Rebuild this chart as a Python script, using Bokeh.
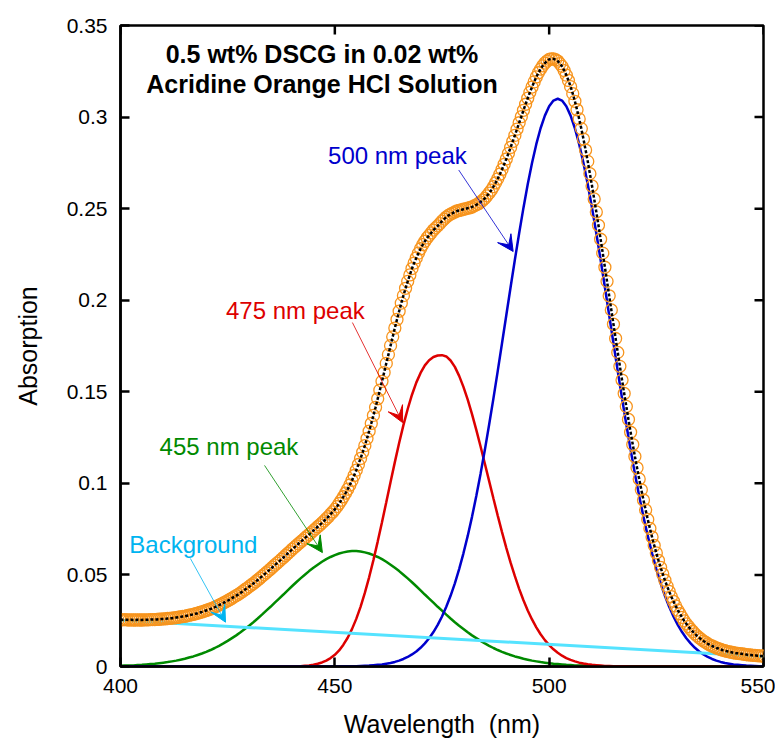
from bokeh.plotting import figure
from bokeh.models import Range1d, FixedTicker, Arrow, VeeHead, Label
from bokeh.embed import file_html
from bokeh.resources import INLINE

# ---------------- data ----------------
# component curves, sampled every 1 nm (400 ... 550)
wavelength = list(range(400, 551))
# measured spectrum, sampled every 0.5 nm (400 ... 550)
wavelength_meas = [400 + 0.5 * i for i in range(301)]

measured = [
    0.0256, 0.0255, 0.0256, 0.0255, 0.0254, 0.0255, 0.0254, 0.0254, 0.0255, 0.0254,
    0.0254, 0.0255, 0.0255, 0.0255, 0.0256, 0.0256, 0.0256, 0.0257, 0.0258, 0.0259,
    0.0260, 0.0260, 0.0262, 0.0263, 0.0264, 0.0265, 0.0267, 0.0269, 0.0271, 0.0273,
    0.0274, 0.0277, 0.0280, 0.0282, 0.0285, 0.0288, 0.0291, 0.0295, 0.0298, 0.0302,
    0.0306, 0.0310, 0.0314, 0.0319, 0.0324, 0.0330, 0.0335, 0.0341, 0.0347, 0.0353,
    0.0359, 0.0366, 0.0373, 0.0380, 0.0387, 0.0394, 0.0402, 0.0410, 0.0419, 0.0427,
    0.0436, 0.0445, 0.0453, 0.0463, 0.0472, 0.0482, 0.0492, 0.0502, 0.0512, 0.0522,
    0.0532, 0.0543, 0.0554, 0.0564, 0.0574, 0.0585, 0.0595, 0.0606, 0.0617, 0.0627,
    0.0639, 0.0649, 0.0659, 0.0670, 0.0680, 0.0690, 0.0701, 0.0711, 0.0721, 0.0731,
    0.0742, 0.0752, 0.0763, 0.0773, 0.0784, 0.0795, 0.0807, 0.0818, 0.0832, 0.0844,
    0.0858, 0.0873, 0.0890, 0.0908, 0.0927, 0.0947, 0.0968, 0.0991, 0.1016, 0.1043,
    0.1072, 0.1103, 0.1136, 0.1170, 0.1206, 0.1245, 0.1285, 0.1327, 0.1371, 0.1415,
    0.1462, 0.1509, 0.1557, 0.1605, 0.1655, 0.1703, 0.1752, 0.1800, 0.1848, 0.1895,
    0.1940, 0.1984, 0.2025, 0.2065, 0.2103, 0.2138, 0.2173, 0.2203, 0.2231, 0.2257,
    0.2281, 0.2303, 0.2322, 0.2340, 0.2354, 0.2368, 0.2383, 0.2395, 0.2406, 0.2418,
    0.2432, 0.2443, 0.2454, 0.2463, 0.2470, 0.2476, 0.2482, 0.2487, 0.2490, 0.2493,
    0.2497, 0.2499, 0.2503, 0.2505, 0.2509, 0.2515, 0.2521, 0.2527, 0.2536, 0.2546,
    0.2556, 0.2570, 0.2585, 0.2601, 0.2620, 0.2641, 0.2663, 0.2688, 0.2714, 0.2742,
    0.2771, 0.2802, 0.2834, 0.2867, 0.2900, 0.2934, 0.2969, 0.3002, 0.3037, 0.3070,
    0.3103, 0.3135, 0.3164, 0.3192, 0.3219, 0.3242, 0.3262, 0.3280, 0.3295, 0.3306,
    0.3315, 0.3318, 0.3318, 0.3313, 0.3306, 0.3292, 0.3277, 0.3254, 0.3229, 0.3200,
    0.3166, 0.3128, 0.3086, 0.3040, 0.2990, 0.2937, 0.2880, 0.2820, 0.2758, 0.2691,
    0.2624, 0.2553, 0.2482, 0.2409, 0.2333, 0.2257, 0.2180, 0.2103, 0.2024, 0.1947,
    0.1869, 0.1791, 0.1715, 0.1639, 0.1564, 0.1491, 0.1420, 0.1349, 0.1279, 0.1212,
    0.1147, 0.1085, 0.1024, 0.0965, 0.0909, 0.0855, 0.0803, 0.0754, 0.0707, 0.0661,
    0.0620, 0.0579, 0.0541, 0.0505, 0.0471, 0.0439, 0.0410, 0.0381, 0.0356, 0.0331,
    0.0308, 0.0288, 0.0268, 0.0249, 0.0233, 0.0218, 0.0203, 0.0191, 0.0178, 0.0167,
    0.0157, 0.0148, 0.0139, 0.0132, 0.0124, 0.0117, 0.0112, 0.0107, 0.0101, 0.0098,
    0.0093, 0.0089, 0.0086, 0.0083, 0.0080, 0.0078, 0.0075, 0.0073, 0.0072, 0.0070,
    0.0069, 0.0067, 0.0065, 0.0063, 0.0063, 0.0061, 0.0061, 0.0059, 0.0058, 0.0058,
    0.0056,
]

peak_455 = [
    0.0004, 0.0005, 0.0005, 0.0006, 0.0008, 0.0009, 0.0011, 0.0013, 0.0015, 0.0018,
    0.0021, 0.0024, 0.0028, 0.0032, 0.0037, 0.0042, 0.0049, 0.0055, 0.0063, 0.0071,
    0.0080, 0.0090, 0.0101, 0.0113, 0.0126, 0.0140, 0.0155, 0.0170, 0.0187, 0.0205,
    0.0223, 0.0242, 0.0262, 0.0283, 0.0305, 0.0326, 0.0349, 0.0371, 0.0393, 0.0416,
    0.0438, 0.0460, 0.0481, 0.0501, 0.0521, 0.0539, 0.0556, 0.0572, 0.0586, 0.0598,
    0.0608, 0.0617, 0.0623, 0.0628, 0.0630, 0.0630, 0.0628, 0.0623, 0.0617, 0.0608,
    0.0598, 0.0586, 0.0572, 0.0556, 0.0539, 0.0521, 0.0501, 0.0481, 0.0460, 0.0438,
    0.0416, 0.0393, 0.0371, 0.0349, 0.0326, 0.0305, 0.0283, 0.0262, 0.0242, 0.0223,
    0.0205, 0.0187, 0.0170, 0.0155, 0.0140, 0.0126, 0.0113, 0.0101, 0.0090, 0.0080,
    0.0071, 0.0063, 0.0055, 0.0049, 0.0042, 0.0037, 0.0032, 0.0028, 0.0024, 0.0021,
    0.0018, 0.0015, 0.0013, 0.0011, 0.0009, 0.0008, 0.0006, 0.0005, 0.0005, 0.0004,
    0.0003, 0.0003, 0.0002, 0.0002, 0.0001, 0.0001, 0.0001, 0.0001, 0.0001, 0.0,
    0.0, 0.0, 0.0, 0.0, 0.0, 0.0, 0.0, 0.0, 0.0, 0.0,
    0.0, 0.0, 0.0, 0.0, 0.0, 0.0, 0.0, 0.0, 0.0, 0.0,
    0.0, 0.0, 0.0, 0.0, 0.0, 0.0, 0.0, 0.0, 0.0, 0.0,
    0.0,
]

peak_475 = [
    0.0, 0.0, 0.0, 0.0, 0.0, 0.0, 0.0, 0.0, 0.0, 0.0,
    0.0, 0.0, 0.0, 0.0, 0.0, 0.0, 0.0, 0.0, 0.0, 0.0,
    0.0, 0.0, 0.0, 0.0, 0.0, 0.0, 0.0, 0.0, 0.0, 0.0,
    0.0, 0.0, 0.0, 0.0, 0.0, 0.0, 0.0, 0.0, 0.0, 0.0,
    0.0001, 0.0001, 0.0002, 0.0004, 0.0006, 0.0010, 0.0015, 0.0022, 0.0032, 0.0046,
    0.0064, 0.0088, 0.0119, 0.0157, 0.0204, 0.0260, 0.0326, 0.0402, 0.0487, 0.0581,
    0.0682, 0.0788, 0.0897, 0.1008, 0.1116, 0.1220, 0.1318, 0.1406, 0.1484, 0.1550,
    0.1603, 0.1644, 0.1672, 0.1690, 0.1698, 0.1700, 0.1693, 0.1671, 0.1636, 0.1587,
    0.1527, 0.1457, 0.1378, 0.1292, 0.1201, 0.1107, 0.1012, 0.0917, 0.0824, 0.0734,
    0.0648, 0.0567, 0.0493, 0.0424, 0.0362, 0.0306, 0.0257, 0.0214, 0.0176, 0.0144,
    0.0117, 0.0094, 0.0075, 0.0059, 0.0046, 0.0036, 0.0028, 0.0021, 0.0016, 0.0012,
    0.0009, 0.0007, 0.0005, 0.0003, 0.0003, 0.0002, 0.0001, 0.0001, 0.0001, 0.0,
    0.0, 0.0, 0.0, 0.0, 0.0, 0.0, 0.0, 0.0, 0.0, 0.0,
    0.0, 0.0, 0.0, 0.0, 0.0, 0.0, 0.0, 0.0, 0.0, 0.0,
    0.0, 0.0, 0.0, 0.0, 0.0, 0.0, 0.0, 0.0, 0.0, 0.0,
    0.0,
]

peak_500 = [
    0.0, 0.0, 0.0, 0.0, 0.0, 0.0, 0.0, 0.0, 0.0, 0.0,
    0.0, 0.0, 0.0, 0.0, 0.0, 0.0, 0.0, 0.0, 0.0, 0.0,
    0.0, 0.0, 0.0, 0.0, 0.0, 0.0, 0.0, 0.0, 0.0, 0.0,
    0.0, 0.0, 0.0, 0.0, 0.0, 0.0, 0.0, 0.0, 0.0, 0.0,
    0.0, 0.0, 0.0, 0.0, 0.0, 0.0, 0.0, 0.0, 0.0, 0.0,
    0.0, 0.0, 0.0001, 0.0001, 0.0001, 0.0002, 0.0003, 0.0004, 0.0005, 0.0007,
    0.0009, 0.0011, 0.0015, 0.0019, 0.0025, 0.0032, 0.0041, 0.0052, 0.0066, 0.0082,
    0.0102, 0.0126, 0.0154, 0.0188, 0.0227, 0.0273, 0.0326, 0.0386, 0.0454, 0.0532,
    0.0618, 0.0713, 0.0817, 0.0931, 0.1053, 0.1183, 0.1321, 0.1464, 0.1613, 0.1765,
    0.1918, 0.2071, 0.2221, 0.2366, 0.2504, 0.2633, 0.2749, 0.2852, 0.2939, 0.3008,
    0.3059, 0.3090, 0.3100, 0.3090, 0.3059, 0.3008, 0.2939, 0.2852, 0.2749, 0.2633,
    0.2504, 0.2366, 0.2221, 0.2071, 0.1918, 0.1765, 0.1613, 0.1464, 0.1321, 0.1183,
    0.1053, 0.0931, 0.0817, 0.0713, 0.0618, 0.0532, 0.0454, 0.0386, 0.0326, 0.0273,
    0.0227, 0.0188, 0.0154, 0.0126, 0.0102, 0.0082, 0.0066, 0.0052, 0.0041, 0.0032,
    0.0025, 0.0019, 0.0015, 0.0011, 0.0009, 0.0007, 0.0005, 0.0004, 0.0003, 0.0002,
    0.0001,
]

background_wl = [400, 550]
background_abs = [0.0252, 0.0055]

x_ticks = [400, 450, 500, 550]
y_ticks = [0, 0.05, 0.1, 0.15, 0.2, 0.25, 0.3, 0.35]
y_tick_labels = ["0", "0.05", "0.1", "0.15", "0.2", "0.25", "0.3", "0.35"]

title_lines = ["0.5 wt% DSCG in 0.02 wt%", "Acridine Orange HCl Solution"]
title_x = 447.0
title_y = [0.3346, 0.3181]

ann_text = ["500 nm peak", "475 nm peak", "455 nm peak", "Background"]
ann_color = ["#0000CC", "#DD0000", "#008A00", "#00B4F0"]
ann_x = [464.6, 440.8, 425.3, 417.0]
ann_y = [0.279, 0.1944, 0.1201, 0.0666]
arrow_x0 = [478.9, 454.1, 433.6, 416.3]
arrow_y0 = [0.2711, 0.1878, 0.1098, 0.0590]
arrow_x1 = [491.6, 465.8, 447.1, 424.5]
arrow_y1 = [0.2266, 0.1332, 0.0622, 0.0242]

FONT = "Liberation Sans"

# ---------------- figure ----------------
p = figure(width=775, height=745, x_range=Range1d(400, 550), y_range=Range1d(0, 0.35),
           output_backend="svg", toolbar_location=None,
           min_border_left=120, min_border_right=12, min_border_top=25, min_border_bottom=79)
p.background_fill_color = "white"
p.border_fill_color = "white"
p.xgrid.visible = False
p.ygrid.visible = False
p.outline_line_color = "black"
p.outline_line_width = 2.5

for ax, ticks in ((p.xaxis[0], x_ticks), (p.yaxis[0], y_ticks)):
    ax.ticker = FixedTicker(ticks=ticks)
    ax.axis_line_width = 2.5
    ax.axis_line_color = "black"
    ax.major_tick_line_width = 2.5
    ax.major_tick_in = 9
    ax.major_tick_out = 0
    ax.minor_tick_in = 0
    ax.minor_tick_out = 0
    ax.major_label_text_font = FONT
    ax.major_label_text_font_size = "21px"
    ax.major_label_text_color = "black"
    ax.axis_label_text_font = FONT
    ax.axis_label_text_font_size = "25px"
    ax.axis_label_text_font_style = "normal"
    ax.axis_label_text_color = "black"

p.yaxis[0].major_label_overrides = {t: s for t, s in zip(y_ticks, y_tick_labels)}
p.xaxis[0].major_label_standoff = 12
p.yaxis[0].major_label_standoff = 13
p.xaxis[0].axis_label = "Wavelength\u00a0 (nm)"
p.yaxis[0].axis_label = "Absorption"
p.xaxis[0].axis_label_standoff = 14
p.yaxis[0].axis_label_standoff = 22

# inward ticks on the top and right edges of the frame
p.ray(x=x_ticks, y=[0.35] * len(x_ticks), length=9, angle=-90, angle_units="deg",
      length_units="screen", line_color="black", line_width=2.5)
p.ray(x=[550] * len(y_ticks), y=y_ticks, length=9, angle=180, angle_units="deg",
      length_units="screen", line_color="black", line_width=2.5)

# component curves
p.line(wavelength, peak_455, line_color="#008A00", line_width=2.5)
p.line(wavelength, peak_475, line_color="#DD0000", line_width=2.5)
p.line(wavelength, peak_500, line_color="#0000CC", line_width=2.5)
p.line(background_wl, background_abs, line_color="#55E3FF", line_width=3)

# measured data and fit
p.scatter(wavelength_meas, measured, marker="circle", size=12, fill_color=None,
          line_color="#F7941D", line_width=1.3)
p.line(wavelength_meas, measured, line_color="black", line_width=2.5, line_dash="3 2")

# title inside plot
for txt, ty in zip(title_lines, title_y):
    p.add_layout(Label(x=title_x, y=ty, text=txt, text_align="center", text_baseline="middle",
                       text_font=FONT, text_font_size="25px", text_font_style="bold",
                       text_color="black"))

# annotations
for t, c, x, y, x0, y0, x1, y1 in zip(ann_text, ann_color, ann_x, ann_y,
                                      arrow_x0, arrow_y0, arrow_x1, arrow_y1):
    p.add_layout(Label(x=x, y=y, text=t, text_align="center", text_baseline="middle",
                       text_font=FONT, text_font_size="24px", text_color=c))
    p.add_layout(Arrow(x_start=x0, y_start=y0, x_end=x1, y_end=y1,
                       line_color=c, line_width=1, line_alpha=0.8,
                       end=VeeHead(size=16, fill_color=c, line_color=c, line_width=1)))

open("out.html", "w").write(file_html(p, INLINE))
